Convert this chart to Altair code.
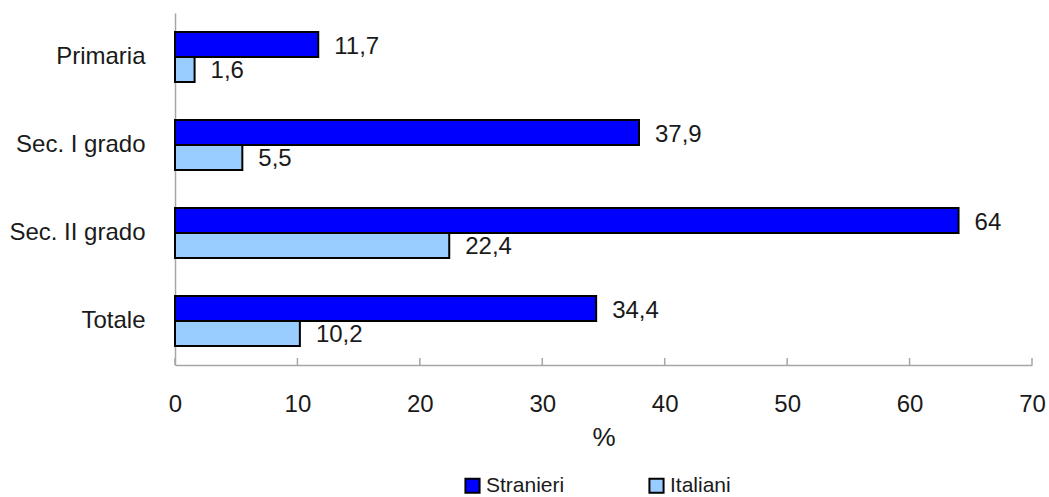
import altair as alt
import pandas as pd

categories = ["Primaria", "Sec. I grado", "Sec. II grado", "Totale"]
series = ["Stranieri", "Italiani"]
stranieri = [11.7, 37.9, 64, 34.4]
italiani = [1.6, 5.5, 22.4, 10.2]
x_ticks = [0, 10, 20, 30, 40, 50, 60, 70]
colors = ["#0000FF", "#99CCFF"]


def fmt(v):
    s = f"{v:g}"
    return s.replace(".", ",")


rows = []
for cat, s, i in zip(categories, stranieri, italiani):
    rows.append({"cat": cat, "serie": "Stranieri", "v": s, "lab": fmt(s)})
    rows.append({"cat": cat, "serie": "Italiani", "v": i, "lab": fmt(i)})
df = pd.DataFrame(rows)
ticks = pd.DataFrame({"v": x_ticks})

FONT = "Liberation Sans"
INK = "#1a1a1a"
AXIS_GREY = "#a6a6a6"

y_enc = alt.Y("cat:N", sort=categories, title=None,
              scale=alt.Scale(paddingInner=0.432, paddingOuter=0.216),
              axis=alt.Axis(ticks=False, labelPadding=30, labelFontSize=24,
                            labelFont=FONT, labelColor=INK,
                            domainColor=AXIS_GREY, domainWidth=1.5))
yoff = alt.YOffset("serie:N", sort=series, scale=alt.Scale(paddingInner=0, paddingOuter=0))
x_enc = alt.X("v:Q", title="%",
              scale=alt.Scale(domain=[0, 70], nice=False),
              axis=alt.Axis(values=x_ticks, grid=False, ticks=False,
                            labelFlush=False, labelOverlap=False,
                            labelPadding=27, labelFontSize=24, labelFont=FONT,
                            labelColor=INK, labelFontWeight="normal",
                            titleFontSize=26, titleFont=FONT, titleColor=INK,
                            titleFontWeight="normal", titlePadding=8,
                            domainColor=AXIS_GREY, domainWidth=1.5))

bars = alt.Chart(df).mark_bar(stroke="black", strokeWidth=2).encode(
    x=x_enc,
    y=y_enc,
    yOffset=yoff,
    color=alt.Color("serie:N", sort=series, title=None,
                    scale=alt.Scale(domain=series, range=colors),
                    legend=alt.Legend(orient="none", legendX=287, legendY=462,
                                      direction="horizontal", symbolType="square",
                                      symbolSize=200, symbolStrokeColor="black",
                                      symbolStrokeWidth=2, symbolOpacity=1,
                                      labelFont=FONT, labelFontSize=21,
                                      labelColor=INK, labelOffset=3,
                                      columnPadding=80)),
)

labels = alt.Chart(df).mark_text(align="left", baseline="middle", dx=16, dy=2,
                                  font=FONT, fontSize=24, color=INK).encode(
    x="v:Q",
    y=alt.Y("cat:N", sort=categories),
    yOffset=alt.YOffset("serie:N", sort=series),
    text="lab:N",
)

tick_marks = alt.Chart(ticks).mark_rule(color=AXIS_GREY, strokeWidth=1.5).encode(
    x="v:Q",
    y=alt.value(345),
    y2=alt.value(352),
)

chart = alt.layer(bars, labels, tick_marks).properties(
    width=857, height=352,
    background="white",
    autosize=alt.AutoSizeParams(type="none"),
    padding={"left": 175, "top": 13, "right": 17, "bottom": 132},
).configure_view(stroke=None)

chart.save("out.html", embed_options={"renderer": "svg", "actions": False})
